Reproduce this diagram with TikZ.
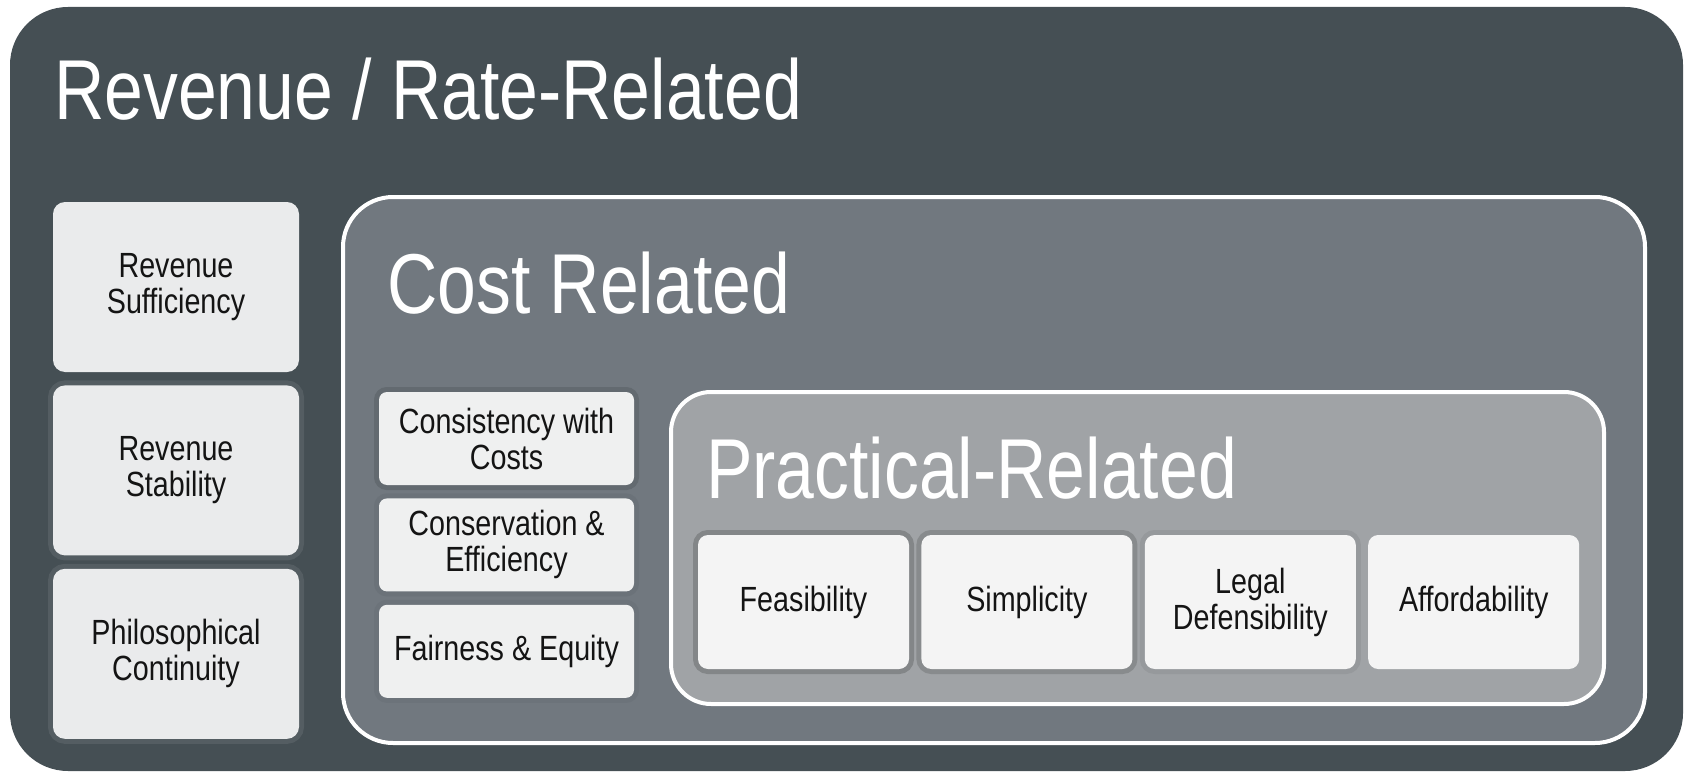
\documentclass[tikz,border=0pt]{standalone}
\usepackage{fontspec}
\setmainfont[FakeStretch=0.82]{Liberation Sans}
\usetikzlibrary{positioning}

\definecolor{slate}{HTML}{454F54}
\definecolor{costgray}{HTML}{71787F}
\definecolor{pracgray}{HTML}{A0A3A6}
\definecolor{revbox}{HTML}{EAEBEC}
\definecolor{costbox}{HTML}{EFF0F0}
\definecolor{pracbox}{HTML}{F4F4F4}

\begin{document}
\begin{tikzpicture}[x=1pt,y=-1pt,
    heading/.style={anchor=base west,inner sep=0pt,text=white,font=\fontsize{85}{90}\selectfont},
    item/.style={rounded corners=#1,inner sep=0pt,align=center,text=black!92,font=\fontsize{35}{36}\selectfont},
    ring/.style={preaction={draw=#1,line width=10pt}},
    revitem/.style={item=12pt,fill=revbox,minimum width=246pt,minimum height=170pt},
    costitem/.style={item=8pt,fill=costbox,minimum width=255pt,minimum height=93pt},
    pracitem/.style={item=10pt,fill=pracbox,minimum width=211pt,minimum height=134pt}]
    \useasboundingbox (0,0) rectangle (1690,773);

    % outer panel
    \fill[slate,rounded corners=58pt] (10,7) rectangle (1683,771);
    \node[heading] (revtitle) at (54,120) {Revenue / Rate-Related};

    \node[revitem]                                     (suff)  at (176,287) {Revenue\\Sufficiency};
    \node[revitem,ring=slate!92!white] (stab)  [below=13pt of suff] {Revenue\\Stability};
    \node[revitem,ring=slate!92!white] (cont)  [below=13pt of stab] {Philosophical\\Continuity};

    % cost panel
    \draw[fill=costgray,draw=white,line width=4pt,rounded corners=50pt] (343,197) rectangle (1645,743);
    \node[heading] (costtitle) at (387,313) {Cost Related};

    \node[costitem,ring=costgray!88!black] (costs) at (506.5,438.5) {Consistency with\\Costs};
    \node[costitem,ring=costgray!95!black] (cons)  [below=13pt of costs] {Conservation \&\\Efficiency};
    \node[costitem,ring=costgray!96!black] (fair)  [below=13pt of cons] {Fairness \& Equity};

    % practical panel
    \draw[fill=pracgray,draw=white,line width=4pt,rounded corners=40pt] (671,392) rectangle (1604,704);
    \node[heading] (practitle) at (706,498) {Practical-Related};

    \node[pracitem,ring=pracgray!82!black] (feas)  at (803.5,602) {Feasibility};
    \node[pracitem,ring=pracgray!85!black] (simp)  [right=12pt of feas] {Simplicity};
    \node[pracitem,ring=pracgray!94!black] (legal) [right=12pt of simp] {Legal\\Defensibility};
    \node[pracitem]                        (afford) [right=12pt of legal] {Affordability};
\end{tikzpicture}
\end{document}
